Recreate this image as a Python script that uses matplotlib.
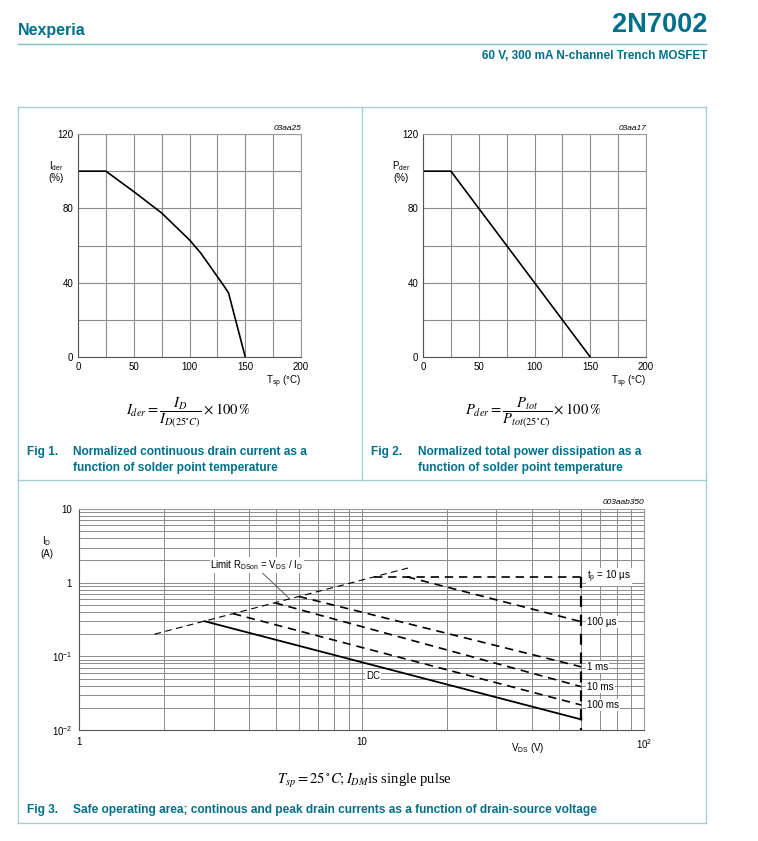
import matplotlib
matplotlib.use("Agg")
import matplotlib.pyplot as plt
from matplotlib.lines import Line2D
import numpy as np

plt.rcParams['font.family'] = ['Liberation Sans', 'DejaVu Sans']
plt.rcParams['mathtext.fontset'] = 'custom'
plt.rcParams['mathtext.rm'] = 'Liberation Sans'
plt.rcParams['mathtext.it'] = 'Liberation Sans:italic'
plt.rcParams['mathtext.bf'] = 'Liberation Sans:bold'

# ---------------- data ----------------
# Fig 1: normalized continuous drain current
tsp_ider = [0, 25, 50, 75, 100, 110, 120, 130, 135, 150]
ider = [100, 100, 89, 77.5, 63, 56, 47.5, 39, 34.5, 0]
# Fig 2: normalized total power dissipation
tsp_pder = [0, 25, 150]
pder = [100, 100, 0]
# Fig 3: safe operating area
limit_v = [1.85, 14.6]
limit_i = [0.2, 1.58]
tp10us_v = [11.1, 60]
tp10us_i = [1.2, 1.2]
tp100us_v = [14.5, 60]
tp100us_i = [1.2, 0.295]
tp1ms_v = [6.0, 60]
tp1ms_i = [0.65, 0.072]
tp10ms_v = [4.93, 60]
tp10ms_i = [0.533, 0.0387]
tp100ms_v = [3.51, 60]
tp100ms_i = [0.38, 0.0218]
dc_v = [2.78, 60]
dc_i = [0.3, 0.0139]
vmax_v = [60, 60]
vmax_i = [1.2, 0.01]
pulse_labels = ['$\\mathregular{t_p}$ = 10 µs', '100 µs', '1 ms', '10 ms', '100 ms']
pulse_label_i = [1.2, 0.295, 0.072, 0.0387, 0.0218]

TEAL = '#00708a'
BOX = '#a6cdd6'
GRID = '#8c8c8c'
W, H = 758, 841

fig = plt.figure(figsize=(W / 100, H / 100), dpi=100)


def fx(x):
    return x / W


def fy(y):
    return 1 - y / H


def hline(x0, x1, y, color=BOX, lw=1.0):
    fig.add_artist(Line2D([fx(x0), fx(x1)], [fy(y), fy(y)], color=color, lw=lw,
                          transform=fig.transFigure))


def vline(x, y0, y1, color=BOX, lw=1.0):
    fig.add_artist(Line2D([fx(x), fx(x)], [fy(y0), fy(y1)], color=color, lw=lw,
                          transform=fig.transFigure))


def ftext(x, y, s, **kw):
    fig.text(fx(x), fy(y), s, **kw)


# ---------------- header ----------------
ftext(18, 30, 'Nexperia', color=TEAL, fontsize=11.5, fontweight='bold', va='center', ha='left')
ftext(707, 25, '2N7002', color=TEAL, fontsize=19.5, fontweight='bold', va='center', ha='right')
hline(18, 706, 44, color='#7fbccb', lw=1.0)
ftext(707, 56, '60 V, 300 mA N-channel Trench MOSFET', color=TEAL, fontsize=8.5,
      fontweight='bold', va='center', ha='right')

# ---------------- boxes ----------------
hline(18, 706, 107)
hline(18, 706, 823)
vline(18, 107, 823)
vline(706, 107, 823)
vline(362, 107, 480)
hline(18, 706, 480)


def setup_lin(ax, xlab_parts, ylab, code, ylab_xy, xlab_xy, code_xy):
    ax.set_xlim(0, 200)
    ax.set_ylim(0, 120)
    ax.set_xticks(np.arange(0, 201, 25))
    ax.set_xticklabels(['0', '', '50', '', '100', '', '150', '', '200'])
    ax.set_yticks(np.arange(0, 121, 20))
    ax.set_yticklabels(['0', '', '40', '', '80', '', '120'])
    ax.grid(True, color=GRID, lw=0.8)
    ax.tick_params(length=0, labelsize=7, pad=3.5)
    for s in ax.spines.values():
        s.set_color('#9a9a9a')
        s.set_linewidth(0.8)
    ax.spines['left'].set_color('#555555')
    ax.spines['bottom'].set_color('#555555')
    ax.set_axisbelow(True)
    ftext(*ylab_xy, ylab, fontsize=7, ha='center', va='center', linespacing=1.1)
    ftext(*xlab_xy, xlab_parts, fontsize=7, ha='center', va='center')
    ftext(*code_xy, code, fontsize=6, ha='right', va='center', style='italic')


ax1 = fig.add_axes([fx(78), fy(357), (301 - 78) / W, (357 - 134) / H])
ax1.plot(tsp_ider, ider, color='black', lw=1.2)
setup_lin(ax1, '$\\mathregular{T_{sp}}$ (°C)', '$\\mathregular{I_{der}}$\n(%)', '03aa25',
          (56, 171), (284, 382), (301, 128))

ax2 = fig.add_axes([fx(423), fy(357), (646 - 423) / W, (357 - 134) / H])
ax2.plot(tsp_pder, pder, color='black', lw=1.2)
setup_lin(ax2, '$\\mathregular{T_{sp}}$ (°C)', '$\\mathregular{P_{der}}$\n(%)', '03aa17',
          (401, 171), (629, 382), (646, 128))

# formulas
ftext(188, 413, r'$I_{der} = \dfrac{I_D}{I_{D(25^{\circ}C)}} \times 100\,\%$', fontsize=10.5,
      ha='center', va='center', math_fontfamily='stix')
ftext(533, 413, r'$P_{der} = \dfrac{P_{tot}}{P_{tot(25^{\circ}C)}} \times 100\,\%$', fontsize=10.5,
      ha='center', va='center', math_fontfamily='stix')

# captions
cap = dict(color=TEAL, fontsize=8.6, fontweight='bold', ha='left', va='center')
ftext(27, 452, 'Fig 1.', **cap)
ftext(73, 452, 'Normalized continuous drain current as a', **cap)
ftext(73, 468, 'function of solder point temperature', **cap)
ftext(371, 452, 'Fig 2.', **cap)
ftext(418, 452, 'Normalized total power dissipation as a', **cap)
ftext(418, 468, 'function of solder point temperature', **cap)
ftext(27, 810, 'Fig 3.', **cap)
ftext(73, 810, 'Safe operating area; continous and peak drain currents as a function of drain-source voltage', **cap)

# ---------------- Fig 3 SOA ----------------
ax3 = fig.add_axes([fx(79), fy(730), (644 - 79) / W, (730 - 509) / H])
ax3.set_xscale('log')
ax3.set_yscale('log')
ax3.set_xlim(1, 100)
ax3.set_ylim(0.01, 10)
ax3.grid(True, which='both', color=GRID, lw=0.7)
ax3.set_axisbelow(True)
ax3.tick_params(which='both', length=0, labelsize=7, pad=5)
ax3.set_xticks([1, 10, 100])
ax3.set_xticklabels(['1', '10', '$\\mathregular{10^2}$'])
ax3.set_yticks([0.01, 0.1, 1, 10])
ax3.set_yticklabels(['$\\mathregular{10^{-2}}$', '$\\mathregular{10^{-1}}$', '1', '10'])
ax3.minorticks_on()
ax3.tick_params(which='minor', length=0, labelleft=False, labelbottom=False)
for s in ax3.spines.values():
    s.set_color('#9a9a9a')
    s.set_linewidth(0.8)
ax3.spines['left'].set_color('#555555')
ax3.spines['bottom'].set_color('#555555')

dash = (5, 3.5)
ax3.plot(limit_v, limit_i, color='black', lw=0.8, dashes=(6, 4))
for v, i in [(tp10us_v, tp10us_i), (tp100us_v, tp100us_i), (tp1ms_v, tp1ms_i),
             (tp10ms_v, tp10ms_i), (tp100ms_v, tp100ms_i)]:
    ax3.plot(v, i, color='black', lw=1.2, dashes=dash)
ax3.plot(vmax_v, vmax_i, color='black', lw=1.6, dashes=dash)
ax3.plot(dc_v, dc_i, color='black', lw=1.3)

bb = dict(facecolor='white', edgecolor='none', pad=0.6)
for lab, yi in zip(pulse_labels, pulse_label_i):
    ax3.text(63, yi, lab, fontsize=7, ha='left', va='center', bbox=bb)
ax3.text(11, 0.054, 'DC', fontsize=7, ha='center', va='center', bbox=bb)
ax3.annotate('Limit $\\mathregular{R_{DSon}}$ = $\\mathregular{V_{DS}}$ / $\\mathregular{I_D}$',
             xy=(5.57, 0.602), xytext=(4.26, 1.73), fontsize=7, ha='center', va='center',
             bbox=bb,
             arrowprops=dict(arrowstyle='-', color='#444444', lw=0.6, shrinkA=0, shrinkB=0,
                             relpos=(0.55, 0.0)))

ftext(47, 547, '$\\mathregular{I_D}$\n(A)', fontsize=7, ha='center', va='center', linespacing=1.1)
ftext(528, 748, '$\\mathregular{V_{DS}}$ (V)', fontsize=7, ha='center', va='center')
ftext(644, 503, '003aab350', fontsize=6, ha='right', va='center', style='italic')

ftext(364, 780, r'$T_{sp} = 25\,^{\circ}C; I_{DM}$is single pulse', fontsize=10.5, ha='center',
      va='center', math_fontfamily='stix', family=['Liberation Serif', 'DejaVu Serif'])

fig.savefig('out.png', dpi=100)
